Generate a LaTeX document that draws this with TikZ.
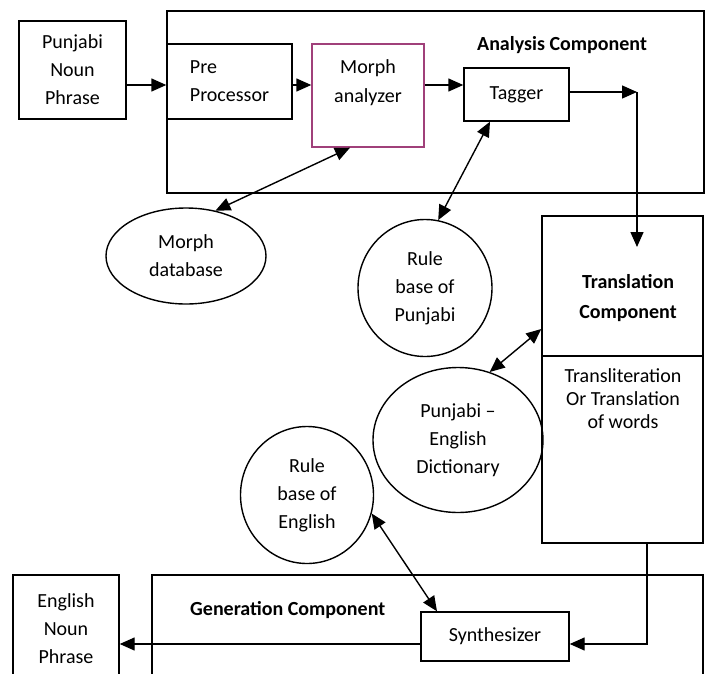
\documentclass[tikz,border=0pt]{standalone}
\usepackage{fontspec}
\setmainfont{Carlito}
\usetikzlibrary{arrows.meta,shapes.geometric}
\definecolor{morphc}{RGB}{160,64,122}
\begin{document}
\begin{tikzpicture}[x=1pt,y=-1pt,
  every node/.style={font=\fontsize{20}{28}\selectfont},
  box/.style={draw, line width=1.4pt, inner sep=0pt, rectangle},
  oval/.style={draw, line width=1.4pt, ellipse, inner sep=0pt},
  txt/.style={inner sep=0pt, align=center},
  btxt/.style={inner sep=0pt, align=center, font=\fontsize{20}{30}\selectfont\bfseries},
  conn/.style={line width=1.4pt},
  arr/.style={conn, -{Triangle[length=15pt,width=13pt]}},
  darr/.style={conn, {Triangle[length=15pt,width=13pt]}-{Triangle[length=15pt,width=13pt]}}
]
\clip (0,0) rectangle (710,673);
\fill[white] (0,0) rectangle (710,673);

% Analysis component
\node[box, minimum width=537pt, minimum height=182pt] (ana) at (435.5,102) {};
\node[btxt] (analab) at (562,45) {Analysis Component};
\node[box, minimum width=107pt, minimum height=98pt, align=center] (pnp) at (72.5,70) {Punjabi\\Noun\\Phrase};
\node[box, minimum width=125pt, minimum height=75pt, align=left] (pre) at (229.5,81.5) {Pre\\Processor};
\node[box, draw=morphc, minimum width=112pt, minimum height=103pt] (morph) at (368,95.5) {};
\node[txt, font=\fontsize{20}{29}\selectfont] (morphlab) at (368,82.5) {Morph\\analyzer};
\node[box, minimum width=105pt, minimum height=53pt] (tagger) at (516.5,94.5) {Tagger};

% ovals
\node[oval, minimum width=160pt, minimum height=96pt, align=center] (db) at (186,256) {Morph\\database};
\node[oval, minimum width=134pt, minimum height=137pt, align=center] (rp) at (425,288) {Rule\\base of\\Punjabi};
\node[oval, minimum width=170pt, minimum height=145pt, align=center] (dict) at (458,440) {Punjabi --\\English\\Dictionary};
\node[oval, minimum width=133pt, minimum height=137pt, align=center] (re) at (307,495) {Rule\\base of\\English};

% Translation component
\node[box, minimum width=161pt, minimum height=140pt] (tt) at (622.5,286) {};
\node[btxt] (ttlab) at (628,298) {Translation\\Component};
\node[box, minimum width=161pt, minimum height=187pt] (tb) at (622.5,449.5) {};
\node[txt, anchor=north, font=\fontsize{20}{23}\selectfont] (tblab) at (623,368) {Transliteration\\Or Translation\\of words};

% Generation component
\node[box, minimum width=551pt, minimum height=125pt] (gen) at (427.5,637.5) {};
\node[btxt, anchor=west] (genlab) at (190,610) {Generation Component};
\node[box, minimum width=148pt, minimum height=49pt] (synth) at (495,636.5) {Synthesizer};
\node[box, minimum width=106pt, minimum height=125pt] (enp) at (66,637.5) {};
\node[txt] (enplab) at (66,628.5) {English\\Noun\\Phrase};

% connectors
\coordinate (c1) at (637,92);
\coordinate (c2) at (637,247);
\coordinate (c3) at (647,644);
\draw[arr] (pnp.east |- 0,85) -- (pre.west |- 0,85);
\draw[arr] (pre.east |- 0,85) -- (morph.west |- 0,85);
\draw[arr] (morph.east |- 0,85) -- (tagger.west |- 0,85);
\draw[arr] (tagger.east |- c1) -- (c1);
\draw[arr] (c1) -- (c2);
\draw[darr] (db.57) -- (350,0 |- morph.south);
\draw[darr] (rp.79) -- (490,0 |- tagger.south);
\draw[darr] (dict.65) -- (tt.west |- 0,329);
\draw[darr] (re.-16) -- (437,0 |- synth.north);
\draw[arr] (c3 |- tb.south) -- (c3) -- (synth.east |- c3);
\draw[arr] (synth.west |- c3) -- (enp.east |- c3);
\end{tikzpicture}
\end{document}
